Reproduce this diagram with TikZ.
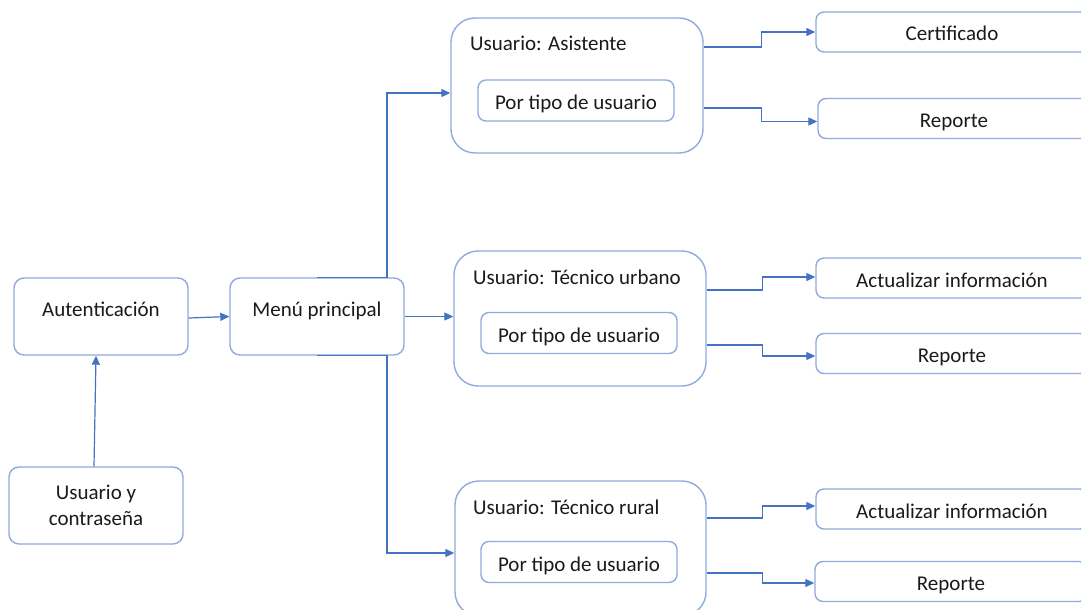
\documentclass[tikz,border=0pt]{standalone}
\usepackage{fontspec}
\setmainfont{Carlito}
\usetikzlibrary{arrows.meta}

\definecolor{edgeblue}{HTML}{8FAADC}
\definecolor{linkblue}{HTML}{4472C4}
\definecolor{txt}{HTML}{1A1A1A}

\tikzset{
    box/.style={draw=edgeblue, line width=1.4pt, rounded corners=10pt, fill=white,
        minimum width=174pt, minimum height=77pt, align=center, text=txt,
        font=\fontsize{21}{26}\selectfont, inner sep=0pt},
    oneline/.style={text height=8pt, text depth=8pt},
    userbox/.style={draw=edgeblue, line width=1.4pt, rounded corners=24pt,
        minimum height=135pt, inner sep=0pt},
    optbox/.style={draw=edgeblue, line width=1.4pt, rounded corners=8pt,
        minimum width=196pt, minimum height=41pt, text=txt,
        font=\fontsize{21}{26}\selectfont, inner sep=0pt,
        text height=20pt, text depth=2pt},
    leafbox/.style={draw=edgeblue, line width=1.4pt, rounded corners=8pt,
        minimum width=272pt, minimum height=40pt, text=txt,
        font=\fontsize{21}{26}\selectfont, inner sep=0pt,
        text height=20pt, text depth=2pt},
    title/.style={anchor=base west, text=txt, font=\fontsize{21}{26}\selectfont, inner sep=0pt},
    link/.style={draw=linkblue, line width=1.2pt, -{Triangle[length=9pt,width=8pt]}}
}

\begin{document}
\begin{tikzpicture}[x=1pt, y=-1pt]
    \useasboundingbox (0,0) rectangle (1081,610);
    \clip (0,0) rectangle (1081,610);

    % login
    \node[box, oneline] (auth) at (101,316.5) {Autenticación};
    \node[box, oneline] (menu) at (317,316.5) {Menú principal};
    \node[box] (cred) at (96,505.5) {Usuario y\\contraseña};

    % user groups
    \node[userbox, minimum width=252pt] (asis) at (577,85.5) {};
    \node[title] (asistitle) at (470,51) {Usuario: Asistente};
    \node[optbox] (asisopt) at (576,100.5) {Por tipo de usuario};

    \node[userbox, minimum width=252pt] (urb) at (580,318.5) {};
    \node[title] (urbtitle) at (473,284) {Usuario: Técnico urbano};
    \node[optbox] (urbopt) at (579,333) {Por tipo de usuario};

    \node[userbox, minimum width=251pt] (rur) at (580.5,548.5) {};
    \node[title] (rurtitle) at (473,514) {Usuario: Técnico rural};
    \node[optbox] (ruropt) at (579,562) {Por tipo de usuario};

    % options on the right
    \node[leafbox] (cert) at (952,32) {Certificado};
    \node[leafbox] (rep1) at (954,118.5) {Reporte};
    \node[leafbox] (act2) at (952,278) {Actualizar información};
    \node[leafbox] (rep2) at (952,353.5) {Reporte};
    \node[leafbox] (act3) at (952,509) {Actualizar información};
    \node[leafbox] (rep3) at (951,581.5) {Reporte};

    % connectors
    \draw[link] ([xshift=-2pt]cred.north) -- ([xshift=-5pt]auth.south);
    \draw[link] ([yshift=-1.5pt]auth.east) -- (menu.west);
    \draw[link] (menu.north) -- ++(70,0) |- ([yshift=-7.5pt]asis.west);
    \draw[link] (menu.east) -- (menu.east -| urb.west);
    \draw[link] (menu.south) -- ++(70,0) |- ([yshift=-4.5pt]rur.west);

    \draw[link] ([yshift=38.5pt]asis.east) -- ++(58,0) |- (cert.west);
    \draw[link] ([yshift=-22.5pt]asis.east) -- ++(58,0) |- ([yshift=-3pt]rep1.west);
    \draw[link] ([yshift=28.5pt]urb.east) -- ++(56,0) |- ([yshift=1pt]act2.west);
    \draw[link] ([yshift=-26.5pt]urb.east) -- ++(56,0) |- ([yshift=-2.5pt]rep2.west);
    \draw[link] ([yshift=30.5pt]rur.east) -- ++(56,0) |- ([yshift=3pt]act3.west);
    \draw[link] ([yshift=-24.5pt]rur.east) -- ++(56,0) |- ([yshift=-1.5pt]rep3.west);
\end{tikzpicture}
\end{document}
